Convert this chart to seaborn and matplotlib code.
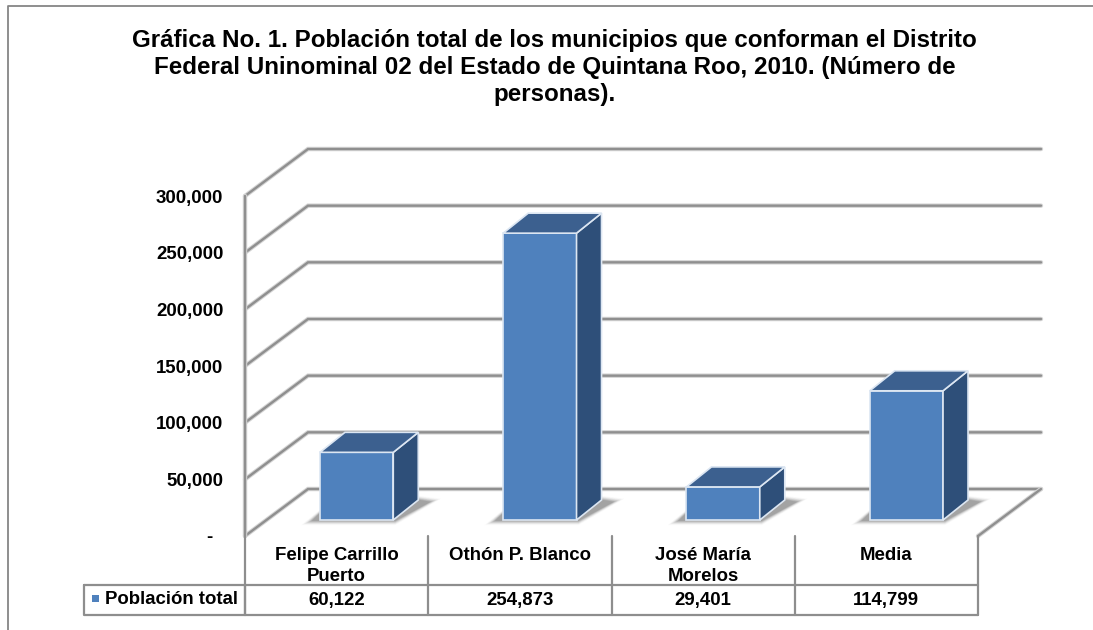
import matplotlib
matplotlib.use("Agg")
import matplotlib.pyplot as plt
import seaborn as sns
import pandas as pd
from matplotlib.patches import Polygon, Rectangle
from matplotlib.lines import Line2D
from matplotlib.transforms import Affine2D, IdentityTransform, blended_transform_factory

# ---- data ----
categories = ["Felipe Carrillo\nPuerto", "Othón P. Blanco", "José María\nMorelos", "Media"]
values = [60122, 254873, 29401, 114799]
value_labels = ["60,122", "254,873", "29,401", "114,799"]
series_name = "Población total"
y_ticks = [0, 50000, 100000, 150000, 200000, 250000, 300000]
y_tick_labels = ["-  ", "50,000", "100,000", "150,000", "200,000", "250,000", "300,000"]
title = ("Gráfica No. 1. Población total de los municipios que conforman el Distrito\n"
         "Federal Uninominal 02 del Estado de Quintana Roo, 2010. (Número de\n"
         "personas).")

# ---- style ----
W, H = 1093, 630
FRONT, TOP, SIDE = "#4F81BD", "#3C608F", "#2E4F79"
EDGE = "#DCE6F2"
GRID = "#8F8F8F"
HALO = "#D4D4D4"
TXT = "#000000"
FS = 13.4
sns.set_theme(style="white")
plt.rcParams["font.family"] = ["Liberation Sans", "DejaVu Sans"]

fig = plt.figure(figsize=(W / 100, H / 100), dpi=100, facecolor="white")
ax = fig.add_axes([245 / W, 1 - 536 / H, (978 - 245) / W, (536 - 196) / H])
ax.patch.set_alpha(0)

df = pd.DataFrame({"municipio": categories, "poblacion": values})
sns.barplot(data=df, x="municipio", y="poblacion", color=FRONT, saturation=1,
            width=0.4, edgecolor=EDGE, linewidth=1.2, ax=ax, zorder=5)
ax.set_xlim(-0.5, 3.5)
ax.set_ylim(0, 300000)
ax.set_xlabel("")
ax.set_ylabel("")
for s in ax.spines.values():
    s.set_visible(False)

# oblique depth offsets, in display pixels
WALL_DX, WALL_DY = 63, 47
BAR_DX, BAR_DY = 20, 16
DEPTH_DX, DEPTH_DY = 25, 20
BAR_SCALE = 0.993
to_px = ax.transData.transform
ident = IdentityTransform()


def wall(xs, ys):
    for c, lw in ((HALO, 3.2), (GRID, 1.7)):
        ax.add_line(Line2D(xs, ys, transform=ident, color=c, lw=lw, clip_on=False, zorder=1,
                           solid_joinstyle="miter"))


# ---- walls / gridlines ----
xl, xr = -0.5, 3.5
for v in y_ticks:
    x0, y0 = to_px((xl, v))
    x1, _ = to_px((xr, v))
    wall([x0, x0 + WALL_DX, x1 + WALL_DX], [y0, y0 + WALL_DY, y0 + WALL_DY])
fx0, fy0 = to_px((xl, 0))
fx1, _ = to_px((xr, 0))
_, fy1 = to_px((xl, 300000))
wall([fx0, fx0], [fy0, fy1])
wall([fx1, fx1 + WALL_DX], [fy0, fy0 + WALL_DY])

# ---- 3D bars ----
shift = ax.transData + Affine2D().translate(0, -fy0).scale(1, BAR_SCALE).translate(BAR_DX, fy0 + BAR_DY)
for patch in ax.patches[:len(values)]:
    bx, by, bw, bh = patch.get_x(), patch.get_y(), patch.get_width(), patch.get_height()
    (l, b), (r, t) = shift.transform((bx, by)), shift.transform((bx + bw, by + bh))
    patch.set_transform(shift)
    patch.set_clip_on(False)
    ax.add_patch(Polygon([(r, b), (r + DEPTH_DX, b + DEPTH_DY), (r + DEPTH_DX, t + DEPTH_DY), (r, t)],
                         closed=True, transform=ident, fc=SIDE, ec=EDGE, lw=1.2, clip_on=False, zorder=5))
    ax.add_patch(Polygon([(l, t), (r, t), (r + DEPTH_DX, t + DEPTH_DY), (l + DEPTH_DX, t + DEPTH_DY)],
                         closed=True, transform=ident, fc=TOP, ec=EDGE, lw=1.2, clip_on=False, zorder=5))
    # soft floor shadow
    for grow, a in zip((8, 6.5, 5, 3.5, 2, 0.5, -1, -2.5), (0.02, 0.03, 0.05, 0.07, 0.09, 0.11, 0.13, 0.15)):
        ax.add_patch(Polygon([(l - 11 - grow, b - 2 - grow * 0.4), (r + 2, b - 2 - grow * 0.4),
                              (r + 40 + grow, b + 19 + grow * 0.3), (r + 8, b + 24 + grow * 0.3),
                              (l, b + 8 + grow * 0.3)],
                             closed=True, transform=ident, fc="#4A4A4A", ec="none", alpha=a,
                             clip_on=False, zorder=3))

# ---- axis tick labels ----
ax.set_yticks(y_ticks, y_tick_labels, fontsize=FS, fontweight="bold", color=TXT)
ax.tick_params(axis="y", length=0, pad=15.5)
ax.tick_params(axis="x", length=0, pad=8.2)
ax.set_xticks(range(len(categories)), categories, fontsize=FS, fontweight="bold", color=TXT,
              linespacing=1.27)

# ---- data table (y in image pixels, measured downward) ----
row = blended_transform_factory(ax.transData, Affine2D().scale(1, -1).translate(0, H))
TBL = "#8E8E8E"
for y in (585, 615):
    ax.add_line(Line2D([xl, xr], [y, y], transform=row, color=TBL, lw=1.6, clip_on=False))
for x in [xl + i for i in range(len(categories) + 1)]:
    ax.add_line(Line2D([x, x], [536, 615], transform=row, color=TBL, lw=1.6, clip_on=False))
for i, lab in enumerate(value_labels):
    ax.text(i, 601, lab, transform=row, ha="center", va="center", fontsize=FS,
            fontweight="bold", color=TXT)

# legend cell, in image pixels
page = Affine2D().scale(1, -1).translate(0, H)
ax.add_line(Line2D([84, 245, 245, 84, 84], [585, 585, 615, 615, 585], transform=page,
                   color=TBL, lw=1.6, clip_on=False))
ax.add_patch(Rectangle((92, 595), 7, 7, transform=page, fc=FRONT, ec="none", clip_on=False))
ax.text(105, 600, series_name, transform=page, ha="left", va="center", fontsize=FS,
        fontweight="bold", color=TXT)

# ---- outer border (left + top only) ----
ax.add_line(Line2D([8, 8, W], [H, 6, 6], transform=page, color="#868686", lw=1.3, clip_on=False))

# ---- title ----
fig.text(554.5 / W, 1 - 67.5 / H, title, ha="center", va="center", fontsize=17.4,
         fontweight="bold", color=TXT, linespacing=1.21)

fig.savefig("out.png", dpi=100, facecolor="white")
